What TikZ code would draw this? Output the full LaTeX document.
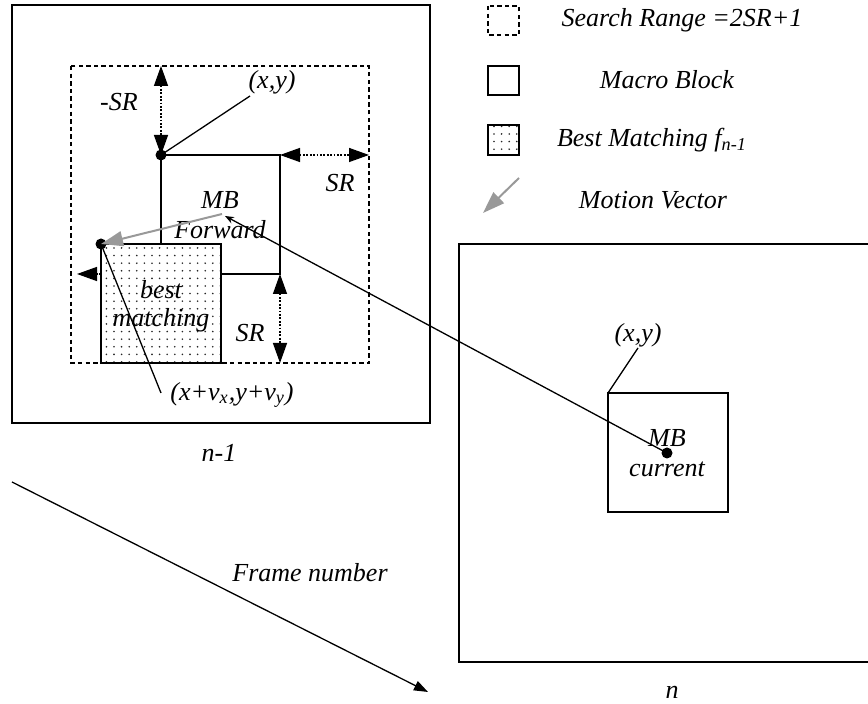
\documentclass[tikz,border=0pt]{standalone}
\usepackage{fontspec}
\setmainfont{Liberation Serif}
\usetikzlibrary{arrows.meta,patterns.meta}

\begin{document}
\begin{tikzpicture}[x=0.5pt,y=-0.5pt,
  lbl/.style={font=\fontsize{13}{15}\selectfont\itshape, inner sep=0pt},
  framebox/.style={draw, line width=1.15pt},
  mblock/.style={draw, line width=0.8pt},
  searchbox/.style={draw, line width=0.7pt, dash pattern=on 2.2pt off 1.6pt},
  dotfill/.style={preaction={fill=white},
    pattern={Dots[distance=3.8pt, radius=0.45pt]}, pattern color=black!85},
  dimarrow/.style={line width=0.7pt, dash pattern=on 0.9pt off 0.8pt,
    {Triangle[length=10pt,width=7pt]}-{Triangle[length=10pt,width=7pt]}},
  halfarrow/.style={line width=0.7pt, dash pattern=on 0.9pt off 0.8pt,
    -{Triangle[length=10pt,width=7pt]}},
  mvector/.style={draw=black!40, line width=1pt,
    -{Triangle[length=11pt,width=7.5pt]}},
  leader/.style={draw, line width=0.65pt},
  cornerdot/.style={circle, fill, inner sep=0pt, minimum size=5.5pt},
]
\useasboundingbox (0,0) rectangle (868,704);

% ---- frame n-1 ----
\draw[framebox] (12,5) rectangle (430,423);
\draw[searchbox] (71,66) rectangle (369,363);
\draw[mblock] (161,155) rectangle (280,274);
\draw[mblock, dotfill] (101,244) rectangle (221,363);

\node[cornerdot] (xy) at (161,155) {};
\node[cornerdot] (bm) at (101,244) {};

% search range extents
\coordinate (topR) at (161,66);
\coordinate (rgtA) at (280,155);
\coordinate (rgtB) at (369,155);
\coordinate (botA) at (280,274);
\coordinate (botB) at (280,363);
\coordinate (lftA) at (101,274);
\coordinate (lftB) at (77,274);
\draw[dimarrow] (topR) -- (xy.center);
\draw[dimarrow] (rgtA) -- (rgtB);
\draw[dimarrow] (botA) -- (botB);
\draw[halfarrow] (lftA) -- (lftB);

\node[lbl] (mSR) at (119,102) {-SR};
\node[lbl] (rSR) at (340,183) {SR};
\node[lbl] (bSR) at (250,333) {SR};

\node[lbl] (xylbl) at (272,82) {(x,y)};
\coordinate (xyend) at (250,96);
\draw[leader] (xy.center) -- (xyend);

\node[lbl] (mbf) at (220,200) {MB};
\node[lbl] (fwd) at (220,230) {Forward};
\node[lbl] (bst) at (161,290) {best};
\node[lbl] (mtc) at (161,320) {matching};

\node[lbl] (vlbl) at (232,395) {(x+v\textsubscript{x},y+v\textsubscript{y})};
\coordinate (vend) at (161,393);
\draw[leader] (bm.center) -- (vend);

% motion vector
\coordinate (mvstart) at (222,214);
\draw[mvector] (mvstart) -- (bm.center);

\node[lbl] (nm1) at (219,453) {n-1};

% ---- frame n ----
\draw[framebox] (868,244) -- (459,244) -- (459,662) -- (868,662);
\draw[mblock] (608,393) rectangle (728,512);
\node[cornerdot] (cur) at (667,453) {};
\node[lbl] (mbc) at (667,438) {MB};
\node[lbl] (cnt) at (667,469) {current};
\node[lbl] (xyc) at (638,335) {(x,y)};
\coordinate (xycend) at (638,348);
\coordinate (curTL) at (608,393);
\draw[leader] (curTL) -- (xycend);
\node[lbl] (nlbl) at (672,692) {n};

% link from current block to its forward position
\coordinate (fwdpos) at (225,216);
\draw[leader, -{Stealth[length=4.5pt,width=3.5pt]}] (cur.center) -- (fwdpos);

% frame axis
\coordinate (axA) at (12,482);
\coordinate (axB) at (428,692);
\draw[leader, -{Triangle[length=7pt,width=5pt]}] (axA) -- (axB);
\node[lbl] (fnum) at (310,573) {Frame number};

% ---- legend ----
\draw[searchbox] (488,6) rectangle (519,35);
\draw[mblock] (488,66) rectangle (519,95);
\draw[mblock, dotfill] (488,125) rectangle (519,155);
\coordinate (lgA) at (519,178);
\coordinate (lgB) at (483,213);
\draw[mvector] (lgA) -- (lgB);
\node[lbl] (lg1) at (682,20) {Search Range =2SR+1};
\node[lbl] (lg2) at (667,80) {Macro Block};
\node[lbl] (lg3) at (652,140) {Best Matching f\textsubscript{n-1}};
\node[lbl] (lg4) at (653,200) {Motion Vector};
\end{tikzpicture}
\end{document}
